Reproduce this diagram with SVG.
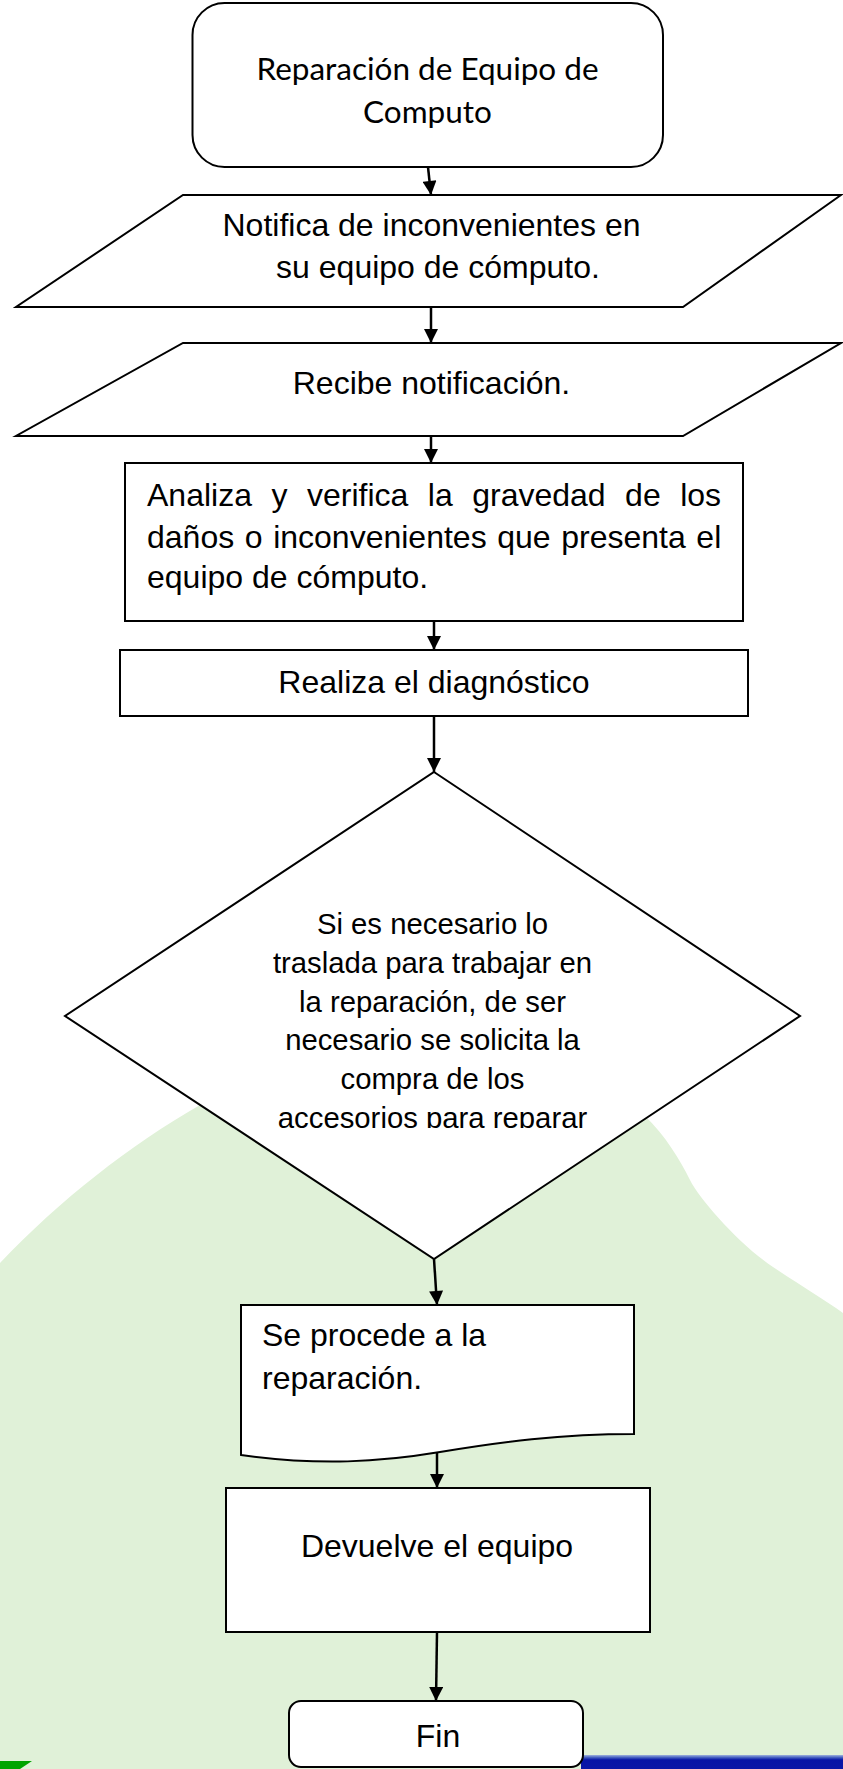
<svg xmlns="http://www.w3.org/2000/svg" width="843" height="1769" viewBox="0 0 843 1769">
  <style>
    .box { fill: #ffffff; stroke: #000000; stroke-width: 2; }
    .t { font-family: "Liberation Sans", Arial, sans-serif; font-size: 32px; fill: #000000; }
    .td { font-family: "Liberation Sans", Arial, sans-serif; font-size: 29.3px; fill: #000000; }
    .ts { font-family: Lato, "Open Sans", sans-serif; font-size: 31.5px; fill: #000000; }
    .c { text-anchor: middle; }
    .conn { stroke: #000000; stroke-width: 2.5; fill: none; marker-end: url(#arrow); }
  </style>
  <defs>
    <marker id="arrow" viewBox="0 0 10 10" refX="10" refY="5" markerWidth="15" markerHeight="14" markerUnits="userSpaceOnUse" orient="auto">
      <path d="M0,0 L10,5 L0,10 z" fill="#000000"/>
    </marker>
    <clipPath id="dclip">
      <rect x="0" y="880" width="843" height="248"/>
    </clipPath>
    <linearGradient id="bar" x1="0" y1="0" x2="0" y2="1">
      <stop offset="0" stop-color="#9fb3dc"/>
      <stop offset="0.2" stop-color="#3a55bd"/>
      <stop offset="0.35" stop-color="#0714a6"/>
      <stop offset="1" stop-color="#0a16a6"/>
    </linearGradient>
  </defs>

  <rect x="0" y="0" width="843" height="1769" fill="#ffffff"/>

  <g id="background">
    <path d="M0,1263 C60,1200 130,1145 200,1105 L430,1050 L645,1116 C665,1135 680,1160 690,1180 C700,1200 740,1245 773,1267 C800,1285 825,1300 843,1313 L843,1769 L0,1769 Z" fill="#e0f1d8"/>
    <polygon points="0,1761 32,1761 20,1769 0,1769" fill="#00a400"/>
    <rect x="581" y="1755" width="262" height="14" fill="url(#bar)"/>
  </g>

  <g id="connectors">
    <line class="conn" x1="428" y1="167" x2="431" y2="195"/>
    <line class="conn" x1="431" y1="307" x2="431" y2="343"/>
    <line class="conn" x1="431" y1="436" x2="431" y2="463"/>
    <line class="conn" x1="434" y1="621" x2="434" y2="650"/>
    <line class="conn" x1="434" y1="716" x2="434" y2="772"/>
    <line class="conn" x1="434" y1="1259" x2="437" y2="1305"/>
    <line class="conn" x1="437" y1="1452" x2="437" y2="1488"/>
    <line class="conn" x1="437" y1="1632" x2="436" y2="1701"/>
  </g>

  <g id="start">
    <rect x="192.5" y="3" width="470.5" height="164" rx="32" ry="32" class="box" stroke-width="2.5"/>
    <text class="ts c" x="427.5" y="80">Reparación de Equipo de</text>
    <text class="ts c" x="427.5" y="123">Computo</text>
  </g>

  <g id="notifica">
    <polygon points="183,195 841,195 683,307 16,307" class="box"/>
    <text class="t c" x="431.5" y="236">Notifica de inconvenientes en</text>
    <text class="t c" x="438" y="278">su equipo de cómputo.</text>
  </g>

  <g id="recibe">
    <polygon points="183,343 841,343 683,436 16,436" class="box"/>
    <text class="t c" x="431.5" y="394">Recibe notificación.</text>
  </g>

  <g id="analiza">
    <rect x="125" y="463" width="618" height="158" class="box"/>
    <text class="t" x="147" y="506" word-spacing="10.6">Analiza y verifica la gravedad de los</text>
    <text class="t" x="147" y="548" word-spacing="1.7">daños o inconvenientes que presenta el</text>
    <text class="t" x="147" y="588">equipo de cómputo.</text>
  </g>

  <g id="realiza">
    <rect x="120" y="650" width="628" height="66" class="box"/>
    <text class="t c" x="434" y="693">Realiza el diagnóstico</text>
  </g>

  <g id="decision">
    <polygon points="434,772 800,1016 434,1259 65,1016" class="box"/>
    <g clip-path="url(#dclip)">
      <text class="td c" x="432.5" y="934">Si es necesario lo</text>
      <text class="td c" x="432.5" y="973">traslada para trabajar en</text>
      <text class="td c" x="432.5" y="1012">la reparación, de ser</text>
      <text class="td c" x="432.5" y="1050">necesario se solicita la</text>
      <text class="td c" x="432.5" y="1089">compra de los</text>
      <text class="td c" x="432.5" y="1128">accesorios para reparar</text>
    </g>
  </g>

  <g id="reparacion">
    <path d="M241,1305 L634,1305 L634,1434 C560,1434 500,1442 440,1452 C380,1462 320,1466 241,1455 Z" class="box"/>
    <text class="t" x="262" y="1346">Se procede a la</text>
    <text class="t" x="262" y="1389">reparación.</text>
  </g>

  <g id="devuelve">
    <rect x="226" y="1488" width="424" height="144" class="box"/>
    <text class="t c" x="437" y="1557">Devuelve el equipo</text>
  </g>

  <g id="fin">
    <rect x="289" y="1701" width="294" height="66" rx="12" ry="12" class="box" stroke-width="2.5"/>
    <text class="t c" x="438" y="1747">Fin</text>
  </g>
</svg>
